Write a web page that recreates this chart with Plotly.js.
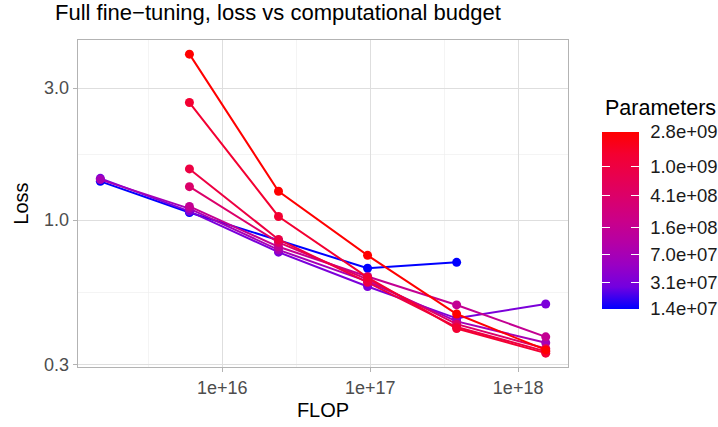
<!DOCTYPE html>
<html>
<head>
<meta charset="utf-8">
<script src="https://cdn.plot.ly/plotly-3.0.1.min.js"></script>
<style>html,body{margin:0;padding:0;background:#fff;}#chart{width:718px;height:427px;}</style>
</head>
<body>
<div id="chart"></div>
<script>
// FLOP budgets (shared x positions)
const flop = [1.5e15, 6e15, 2.4e16, 9.6e16, 3.84e17, 1.536e18];
// model sizes (parameters)
const params = [1.4e7, 3.1e7, 7.0e7, 1.6e8, 4.1e8, 1.0e9, 1.4e9, 2.8e9];
// loss per model at each FLOP budget (null = not run)
const loss14M  = [1.38, 1.065, 0.845, 0.669, 0.703, null];
const loss31M  = [1.415, 1.075, 0.765, 0.575, 0.441, 0.497];
const loss70M  = [1.40, 1.10, 0.78, 0.60, 0.43, 0.36];
const loss160M = [null, 1.12, 0.80, 0.625, 0.493, 0.378];
const loss410M = [null, 1.32, 0.83, 0.61, 0.42, 0.343];
const loss1B   = [null, 1.53, 0.85, 0.595, 0.41, 0.335];
const loss1_4B = [null, 2.66, 1.03, 0.62, 0.405, 0.330];
const loss2_8B = [null, 3.98, 1.27, 0.745, 0.457, 0.339];
const lossSeries = [loss14M, loss31M, loss70M, loss160M, loss410M, loss1B, loss1_4B, loss2_8B];
// colourbar breaks
const cbTickVals = [2.8e9, 1.0e9, 4.1e8, 1.6e8, 7.0e7, 3.1e7, 1.4e7];
const cbTickText = ['2.8e+09', '1.0e+09', '4.1e+08', '1.6e+08', '7.0e+07', '3.1e+07', '1.4e+07'];

// blue -> red gradient (Lab interpolated stops)
const stops = [[0,'#0000FF'],[0.125,'#7300E0'],[0.25,'#9A00C3'],[0.375,'#B500A5'],[0.5,'#CA0089'],
               [0.625,'#DA006C'],[0.75,'#E8004F'],[0.875,'#F40031'],[1,'#FF0000']];
const cmin = Math.log10(params[0]), cmax = Math.log10(params[params.length-1]);
function hex2rgb(h){return [parseInt(h.substr(1,2),16),parseInt(h.substr(3,2),16),parseInt(h.substr(5,2),16)];}
function colorAt(t){
  for(let i=0;i<stops.length-1;i++){
    const [t0,c0]=stops[i],[t1,c1]=stops[i+1];
    if(t<=t1+1e-9){
      const f=(t-t0)/(t1-t0), a=hex2rgb(c0), b=hex2rgb(c1);
      return 'rgb('+a.map((v,k)=>Math.round(v+(b[k]-v)*f)).join(',')+')';
    }
  }
  return stops[stops.length-1][1];
}

const W=718,H=427;
const font = 'Liberation Sans, Arial, sans-serif';
// panel: top 40, bottom 367 -> paper fraction for colourbar top
const barTopPx = 131.7, barLen = 176.6;
const barY = (367-barTopPx)/327;

const traces = lossSeries.map((ys,i)=>{
  const lv = Math.log10(params[i]);
  const t = (lv-cmin)/(cmax-cmin);
  return {
    type:'scatter', mode:'lines+markers', x:flop, y:ys,
    connectgaps:false, showlegend:false, hoverinfo:'skip',
    line:{color:colorAt(t), width:2},
    marker:{size:9, color:ys.map(()=>lv), colorscale:stops, cmin:cmin, cmax:cmax, showscale:false}
  };
});
const tv = cbTickVals.map(v=>Math.log10(v));
function cb(xpx, thick, withLabels){
  const o = {
    x:xpx/W, xref:'container', xanchor:'left', xpad:0,
    y:barY, yref:'paper', yanchor:'top', ypad:0, len:barLen, lenmode:'pixels',
    thickness:thick, thicknessmode:'pixels', outlinewidth:0,
    tickmode:'array', tickvals:tv, ticktext:cbTickText
  };
  if(withLabels){
    o.ticks='outside'; o.ticklen=8; o.tickcolor='rgba(0,0,0,0)';
    o.tickfont={size:18.5, color:'#1a1a1a', family:font};
  } else {
    o.ticks='inside'; o.ticklen=8; o.tickwidth=1; o.tickcolor='#ffffff'; o.showticklabels=false;
  }
  return o;
}
traces[0].marker.showscale = true; traces[0].marker.colorbar = cb(602, 37, true);
traces[1].marker.showscale = true; traces[1].marker.colorbar = cb(602, 8, false);
traces[2].marker.showscale = true; traces[2].marker.colorbar = cb(631, 8, false);

const layout = {
  width:W, height:H, paper_bgcolor:'#fff', plot_bgcolor:'#fff',
  margin:{l:78, r:150, t:40, b:60},
  font:{family:font},
  title:{text:'Full fine\u2212tuning, loss vs computational budget', x:55/W, xref:'container', xanchor:'left',
         y:1-12/H, yref:'container', yanchor:'middle', font:{size:22, color:'#000', family:font}},
  annotations:[{text:'Parameters', xref:'paper', yref:'paper', x:(603-78)/490, y:(367-108)/327,
                xanchor:'left', yanchor:'middle', showarrow:false, font:{size:21.5, color:'#000', family:font}}],
  xaxis:{type:'log', range:[15.025, 18.337], tickmode:'array', tickvals:[1e16,1e17,1e18],
         ticktext:['1e+16','1e+17','1e+18'], tickfont:{size:18, color:'#4d4d4d'},
         ticks:'outside', ticklen:4, tickwidth:1, tickcolor:'#b3b3b3',
         showline:true, mirror:true, linecolor:'#b3b3b3', linewidth:1.3,
         showgrid:true, gridcolor:'#dedede', gridwidth:1, zeroline:false,
         minor:{tickvals:[Math.pow(10,15.5),Math.pow(10,16.5),Math.pow(10,17.5)], showgrid:true, gridcolor:'#ececec', gridwidth:0.6, ticks:''},
         title:{text:'FLOP', standoff:6, font:{size:20, color:'#000'}}},
  yaxis:{type:'log', range:[-0.5316, 0.651], tickmode:'array', tickvals:[0.3,1,3],
         ticktext:['0.3','1.0','3.0'], tickfont:{size:18, color:'#4d4d4d'},
         ticks:'outside', ticklen:4, tickwidth:1, tickcolor:'#b3b3b3',
         showline:true, mirror:true, linecolor:'#b3b3b3', linewidth:1.3,
         showgrid:true, gridcolor:'#dedede', gridwidth:1, zeroline:false,
         minor:{tickvals:[Math.sqrt(0.3),Math.sqrt(3)], showgrid:true, gridcolor:'#ececec', gridwidth:0.6, ticks:''},
         title:{text:'Loss', standoff:10, font:{size:20, color:'#000'}}}
};
Plotly.newPlot('chart', traces, layout, {displayModeBar:false, staticPlot:true});
</script>
</body>
</html>
